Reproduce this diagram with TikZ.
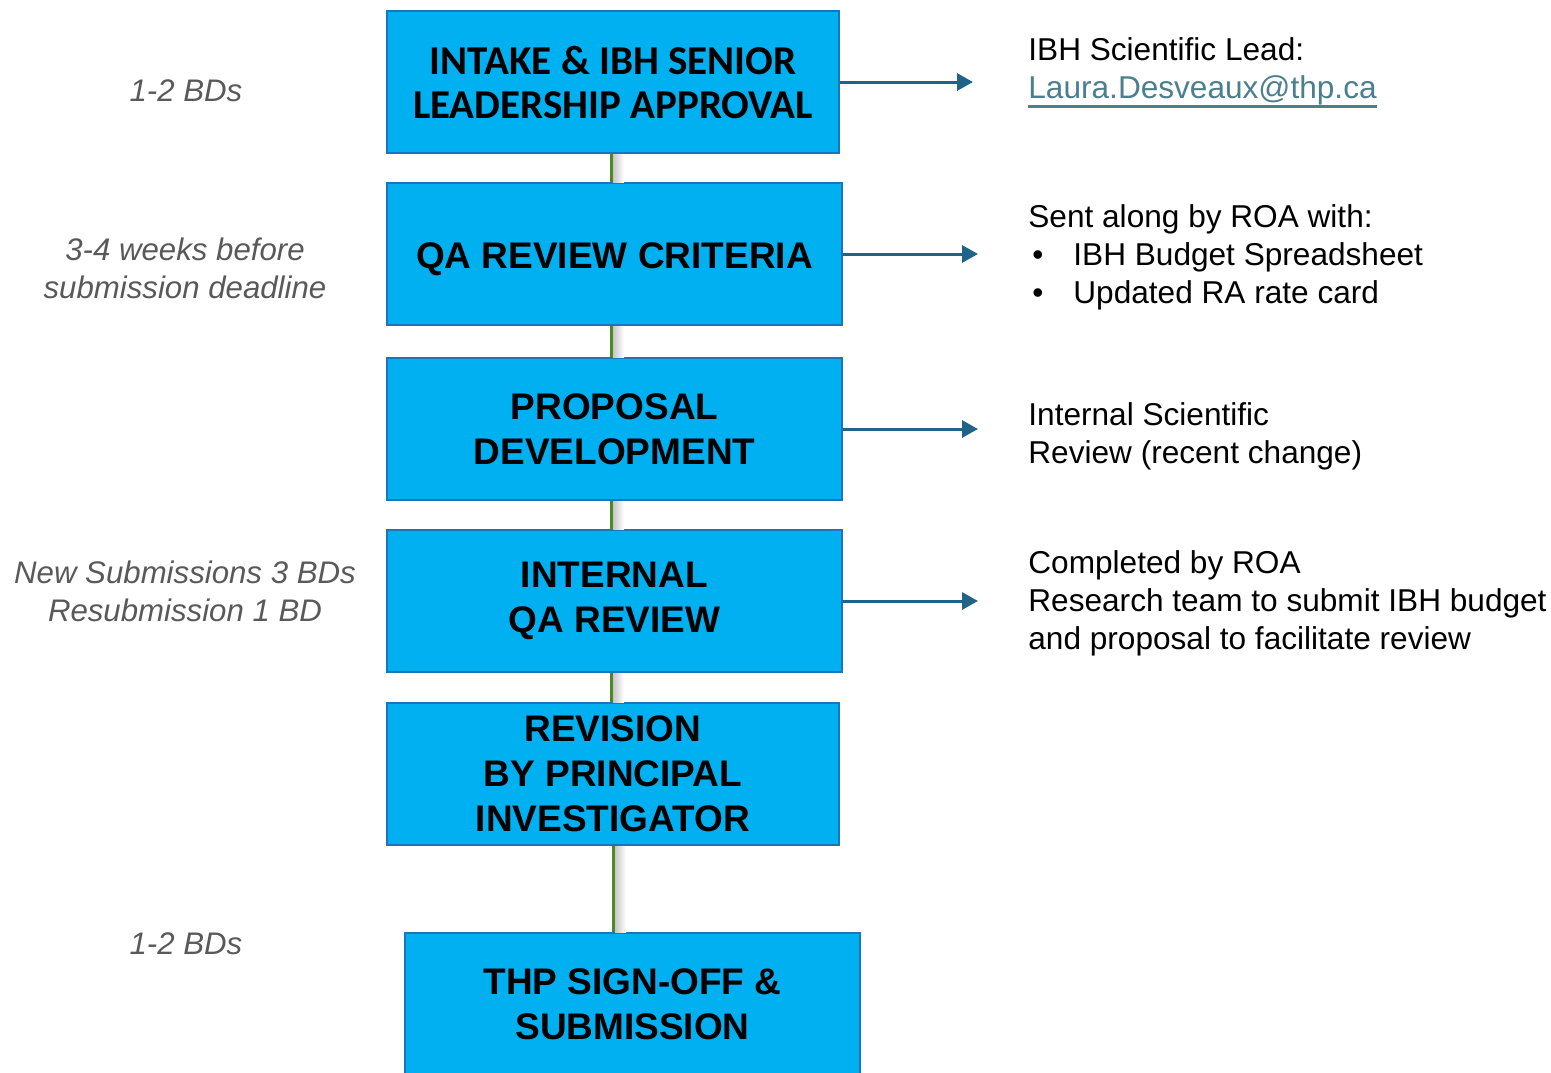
\documentclass[tikz,border=0pt]{standalone}
\usepackage{fontspec}
\setmainfont{Liberation Sans}
\newfontfamily\calfont{Carlito}
\newcommand{\thicklink}[1]{\setbox0\hbox{#1}\rlap{\rule[-4.5pt]{\wd0}{1.3pt}}\box0}
\usetikzlibrary{positioning,calc,arrows.meta}

\begin{document}
\begin{tikzpicture}[x=0.5pt,y=-0.5pt]
    \def\px{0.5pt}
    \definecolor{colbox}{HTML}{00B0F0}
    \definecolor{colboxline}{HTML}{1A75BC}
    \definecolor{colspine}{HTML}{4A8A2A}
    \definecolor{colarrow}{HTML}{1F6488}
    \definecolor{colnote}{HTML}{595959}
    \definecolor{collink}{HTML}{4B7F8E}

    \tikzstyle{stage}=[draw=colboxline,fill=colbox,line width=1pt,inner sep=0pt,
                       minimum width=452*\px,minimum height=142*\px,align=center,
                       font=\fontsize{18.5}{22.5}\selectfont\bfseries]
    \tikzstyle{timing}=[align=center,text=colnote,inner sep=0pt,
                        font=\fontsize{15.6}{19}\selectfont\itshape]
    \tikzstyle{note}=[align=left,anchor=west,inner sep=0pt,
                      font=\fontsize{15.8}{19}\selectfont]
    \tikzstyle{feed}=[colarrow,line width=1.5pt,-{Triangle[length=8pt,width=8.5pt]}]
    \tikzstyle{spine}=[colspine,line width=1.5pt]
    \tikzstyle{spineshade}=[left color=black!22,right color=white]

    \useasboundingbox (0,0) rectangle (1551,1072);

    % stages
    \node[stage,font=\calfont\fontsize{20.5}{22}\selectfont\bfseries] (intake) at (613,82)
        {INTAKE \& IBH SENIOR\\LEADERSHIP APPROVAL};
    \node[stage,minimum width=455*\px,text height=18pt] (qacrit) at (614.5,254) {QA REVIEW CRITERIA};
    \node[stage,minimum width=455*\px] (propdev) at (614.5,429) {PROPOSAL\\DEVELOPMENT};
    \node[stage,minimum width=455*\px] (intqa) at (614.5,601) {INTERNAL\\QA REVIEW};
    \node[stage] (revpi) at (613,774) {REVISION\\BY PRINCIPAL\\INVESTIGATOR};
    \node[stage,minimum width=455*\px] (signoff) at (632.5,1004) {THP SIGN-OFF \&\\SUBMISSION};

    % spine between stages
    \coordinate (spine) at (611,0);
    \shade[spineshade] ($(intake.south -| spine)+(2,0)$) rectangle ($(qacrit.north -| spine)+(13,0)$);
    \shade[spineshade] ($(qacrit.south -| spine)+(2,0)$) rectangle ($(propdev.north -| spine)+(13,0)$);
    \shade[spineshade] ($(propdev.south -| spine)+(2,0)$) rectangle ($(intqa.north -| spine)+(13,0)$);
    \shade[spineshade] ($(intqa.south -| spine)+(2,0)$) rectangle ($(revpi.north -| spine)+(13,0)$);
    \shade[spineshade] ($(revpi.south -| spine)+(4,0)$) rectangle ($(signoff.north -| spine)+(15,0)$);
    \draw[spine] (intake.south -| spine) -- (qacrit.north -| spine);
    \draw[spine] (qacrit.south -| spine) -- (propdev.north -| spine);
    \draw[spine] (propdev.south -| spine) -- (intqa.north -| spine);
    \draw[spine] (intqa.south -| spine) -- (revpi.north -| spine);
    \draw[spine] ($(revpi.south -| spine)+(2,0)$) -- ($(signoff.north -| spine)+(2,0)$);

    % arrows to notes
    \coordinate (tip1) at (973,82);
    \coordinate (tip2) at (978,254);
    \coordinate (tip3) at (978,429);
    \coordinate (tip4) at (978,601);
    \draw[feed] (intake) -- (tip1);
    \draw[feed] (qacrit) -- (tip2);
    \draw[feed] (propdev) -- (tip3);
    \draw[feed] (intqa) -- (tip4);

    % notes
    \node[note] (lead) at (1028,73)
        {IBH Scientific Lead:\\\textcolor{collink}{\thicklink{Laura.Desveaux@thp.ca}}};
    \node[note] (sent) at (1028,257.5)
        {Sent along by ROA with:\\
         \hspace*{2pt}\makebox[20.5pt][l]{\textbullet}IBH Budget Spreadsheet\\
         \hspace*{2pt}\makebox[20.5pt][l]{\textbullet}Updated RA rate card};
    \node[note] (review) at (1028,436) {Internal Scientific\\Review (recent change)};
    \node[note] (roa) at (1028,603)
        {Completed by ROA\\Research team to submit IBH budget\\and proposal to facilitate review};

    % timings
    \node[timing] (time1) at (186,91) {1-2 BDs};
    \node[timing] (time2) at (185,268.5) {3-4 weeks before\\submission deadline};
    \node[timing] (time3) at (185,591) {New Submissions 3 BDs\\Resubmission 1 BD};
    \node[timing] (time4) at (186,944) {1-2 BDs};
\end{tikzpicture}
\end{document}
